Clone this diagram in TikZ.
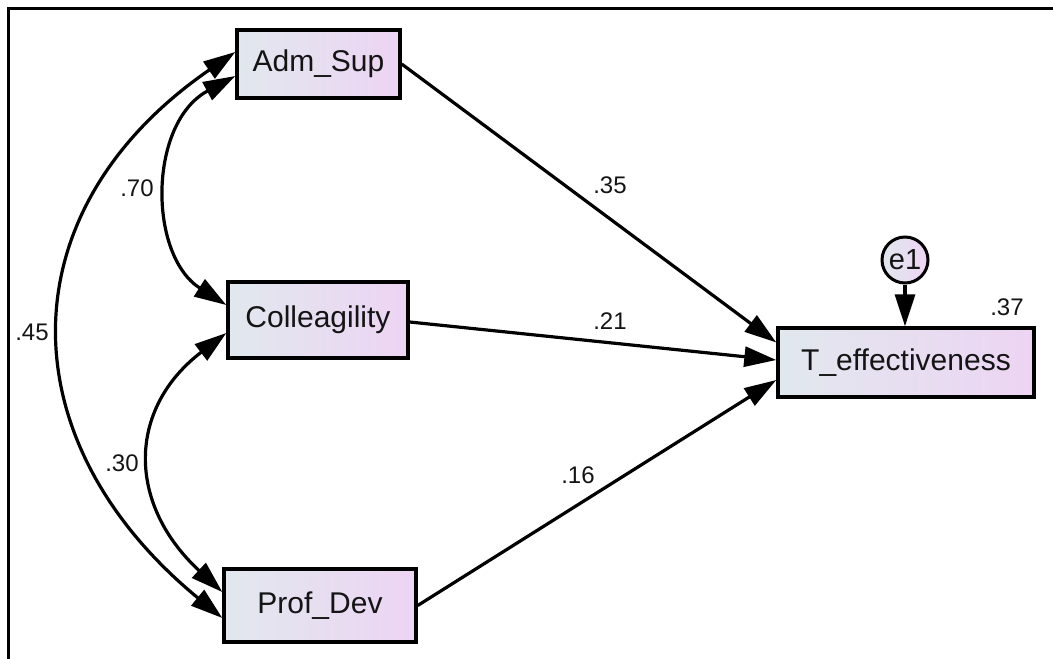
\documentclass[tikz,border=0pt]{standalone}
\usepackage{fontspec}
\setmainfont{Liberation Sans}
\usetikzlibrary{arrows.meta}
\definecolor{boxL}{RGB}{225,232,238}
\definecolor{boxR}{RGB}{237,212,243}
\definecolor{txt}{RGB}{20,20,20}
\begin{document}
\begin{tikzpicture}[x=1pt,y=-1pt,
  box/.style={draw=black, line width=3.4pt, left color=boxL, right color=boxR,
    font=\fontsize{30}{32}\selectfont, text=txt, inner sep=0pt},
  errc/.style={circle, draw=black, line width=3pt, left color=boxL, right color=boxR,
    font=\fontsize{29}{31}\selectfont, text=txt, inner sep=0pt, minimum size=46pt},
  lbl/.style={font=\fontsize{24}{26}\selectfont, text=txt, inner sep=0pt},
  arr/.style={line width=3.2pt, -{Triangle[length=32pt,width=20pt]}},
  cov/.style={line width=3.2pt, {Triangle[length=32pt,width=20pt]}-{Triangle[length=32pt,width=20pt]}},
  frameline/.style={line width=3pt}
]
\useasboundingbox (0,0) rectangle (1053,659);
\draw[frameline] (8,659) -- (8,8) -- (1053,8);

\node[box, minimum width=163pt, minimum height=68pt] (adm) at (318.5,64) {Adm\_Sup};
\node[box, minimum width=180pt, minimum height=76pt] (coll) at (318,320) {Colleagility};
\node[box, minimum width=192pt, minimum height=73pt] (prof) at (320,605.5) {Prof\_Dev};
\node[box, minimum width=256pt, minimum height=69pt] (teff) at (906,362.5) {T\_effectiveness};
\node[errc] (e1) at (905,260) {e1};

% regression paths
\draw[arr] (adm.east) -- ([yshift=20pt]teff.west);
\draw[arr] ([yshift=-2pt]coll.east) -- ([yshift=2.5pt]teff.west);
\draw[arr] (prof.east) -- ([yshift=-17.5pt]teff.west);
\draw[arr] (e1.south) -- (e1 |- teff.north);

% covariances
\draw[cov] ([yshift=12pt]adm.west) .. controls (6,210) and (6,440) .. ([yshift=-12.5pt]prof.west);
\draw[cov] ([yshift=-12pt]adm.west) .. controls (148,123) and (148,255) .. ([yshift=15pt]coll.west);
\draw[cov] ([yshift=-13pt]coll.west) .. controls (127,409) and (127,504) .. ([yshift=13.5pt]prof.west);

% labels
\node[lbl] (l35) at (610,185) {.35};
\node[lbl] (l21) at (610,321) {.21};
\node[lbl] (l16) at (578,475) {.16};
\node[lbl] (l70) at (137,188) {.70};
\node[lbl] (l45) at (32,332) {.45};
\node[lbl] (l30) at (122,463) {.30};
\node[lbl] (l37) at (1007,307) {.37};
\end{tikzpicture}
\end{document}
